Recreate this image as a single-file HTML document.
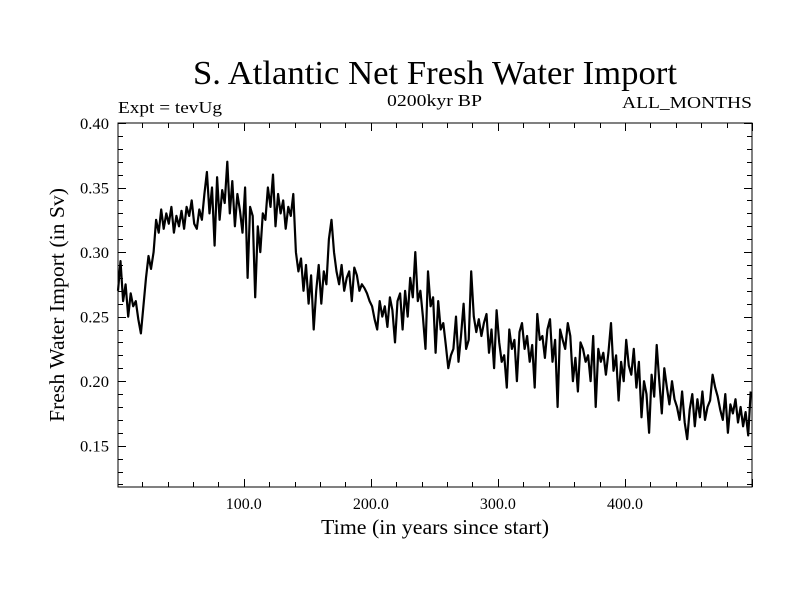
<!DOCTYPE html>
<html><head><meta charset="utf-8"><style>
html,body{margin:0;padding:0;background:#fff;}
svg{display:block;font-family:"Liberation Serif",serif;}
</style></head><body>
<svg id="chart" width="800" height="600" xmlns="http://www.w3.org/2000/svg">
<rect width="800" height="600" fill="#fff"/>
<text x="193" y="84" font-size="34" textLength="484" lengthAdjust="spacingAndGlyphs">S. Atlantic Net Fresh Water Import</text>
<text x="118" y="113" font-size="17" textLength="104" lengthAdjust="spacingAndGlyphs">Expt = tevUg</text>
<text x="387" y="106" font-size="17" textLength="95" lengthAdjust="spacingAndGlyphs">0200kyr BP</text>
<text x="622" y="108" font-size="17" textLength="130" lengthAdjust="spacingAndGlyphs">ALL_MONTHS</text>
<text x="321" y="534" font-size="21" textLength="228" lengthAdjust="spacingAndGlyphs">Time (in years since start)</text>
<text transform="translate(64,422) rotate(-90)" font-size="21" textLength="234" lengthAdjust="spacingAndGlyphs">Fresh Water Import (in Sv)</text>
<g id="axes"></g>
<path id="series" fill="none" stroke="#000" stroke-width="2.2" stroke-linejoin="round"/>
<rect x="118" y="123" width="634" height="364" fill="none" stroke="#000" stroke-width="1"/>
</svg>
<script>
const years0 = 1, yearStep = 2;
const values = [
0.270,0.293,0.262,0.275,0.250,0.268,0.258,0.262,0.248,0.237,
0.258,0.280,0.297,0.287,0.300,0.325,0.315,0.333,0.318,0.330,
0.322,0.335,0.315,0.328,0.320,0.332,0.318,0.335,0.328,0.340,
0.322,0.318,0.333,0.325,0.345,0.362,0.330,0.350,0.305,0.358,
0.325,0.348,0.338,0.370,0.330,0.355,0.320,0.345,0.332,0.315,
0.350,0.280,0.335,0.328,0.265,0.320,0.300,0.330,0.325,0.350,
0.335,0.360,0.320,0.345,0.330,0.340,0.318,0.335,0.328,0.345,
0.300,0.285,0.295,0.270,0.290,0.260,0.282,0.240,0.270,0.290,
0.260,0.285,0.275,0.310,0.325,0.300,0.285,0.275,0.290,0.270,
0.280,0.285,0.262,0.288,0.282,0.270,0.275,0.272,0.268,0.262,
0.258,0.248,0.240,0.262,0.250,0.258,0.242,0.265,0.255,0.230,
0.262,0.268,0.240,0.270,0.250,0.280,0.265,0.300,0.262,0.270,
0.250,0.225,0.285,0.258,0.265,0.222,0.262,0.240,0.245,0.228,
0.210,0.220,0.225,0.250,0.215,0.235,0.260,0.225,0.232,0.285,
0.250,0.238,0.248,0.235,0.245,0.252,0.222,0.240,0.210,0.255,
0.230,0.215,0.220,0.195,0.240,0.225,0.232,0.200,0.238,0.245,
0.225,0.235,0.215,0.228,0.195,0.252,0.232,0.235,0.218,0.240,
0.248,0.215,0.232,0.180,0.240,0.232,0.225,0.245,0.235,0.200,
0.218,0.192,0.230,0.225,0.215,0.220,0.200,0.235,0.180,0.225,
0.215,0.222,0.205,0.222,0.245,0.208,0.220,0.185,0.215,0.200,
0.232,0.212,0.205,0.225,0.195,0.215,0.172,0.200,0.190,0.160,
0.205,0.188,0.228,0.200,0.175,0.210,0.195,0.182,0.200,0.186,
0.180,0.170,0.192,0.168,0.155,0.178,0.190,0.165,0.186,0.172,
0.192,0.170,0.180,0.185,0.205,0.195,0.188,0.178,0.170,0.190,
0.160,0.182,0.175,0.186,0.168,0.180,0.165,0.176,0.158,0.192
];
const xTickValues = [100,200,300,400];
const xTickLabels = ["100.0","200.0","300.0","400.0"];
const yTickValues = [0.15,0.20,0.25,0.30,0.35,0.40];
const yTickLabels = ["0.15","0.20","0.25","0.30","0.35","0.40"];

const X0=118,X1=752,Y0=487,Y1=123;
const xmin=1,xmax=500,ymin=0.118,ymax=0.40;
const xs=v=>X0+(v-xmin)/(xmax-xmin)*(X1-X0);
const ys=v=>Y0-(v-ymin)/(ymax-ymin)*(Y0-Y1);
const NS="http://www.w3.org/2000/svg";
const axes=document.getElementById('axes');
function line(x1,y1,x2,y2){const l=document.createElementNS(NS,'line');l.setAttribute('x1',x1);l.setAttribute('y1',y1);l.setAttribute('x2',x2);l.setAttribute('y2',y2);l.setAttribute('stroke','#000');l.setAttribute('stroke-width','1');


axes.appendChild(l);}
for(let t=20;t<=500;t+=20){const x=Math.round(xs(t))+0.5;const len=(t%100===0)?8:5;line(x,Y0,x,Y0-len);line(x,Y1,x,Y1+len);}
for(let k=12;k<=40;k++){const v=k/100;const y=Math.round(ys(v))+0.5;const len=(k%5===0)?8:5;line(X0,y,X0+len,y);line(X1,y,X1-len,y);}
xTickValues.forEach((v,i)=>{const t=document.createElementNS(NS,'text');t.setAttribute('x',xs(v));t.setAttribute('y',509);t.setAttribute('font-size','16');t.setAttribute('text-anchor','middle');t.setAttribute('textLength','36');t.setAttribute('lengthAdjust','spacingAndGlyphs');t.textContent=xTickLabels[i];


axes.appendChild(t);});
yTickValues.forEach((v,i)=>{const t=document.createElementNS(NS,'text');t.setAttribute('x',80);t.setAttribute('y',ys(v)+6);t.setAttribute('font-size','16');t.setAttribute('textLength','29');t.setAttribute('lengthAdjust','spacingAndGlyphs');t.textContent=yTickLabels[i];


axes.appendChild(t);});
let d='';values.forEach((v,i)=>{const yr=years0+i*yearStep;d+=(i?'L':'M')+xs(yr).toFixed(1)+','+ys(v).toFixed(1);});
document.getElementById('series').setAttribute('d',d);
</script>
</body></html>
